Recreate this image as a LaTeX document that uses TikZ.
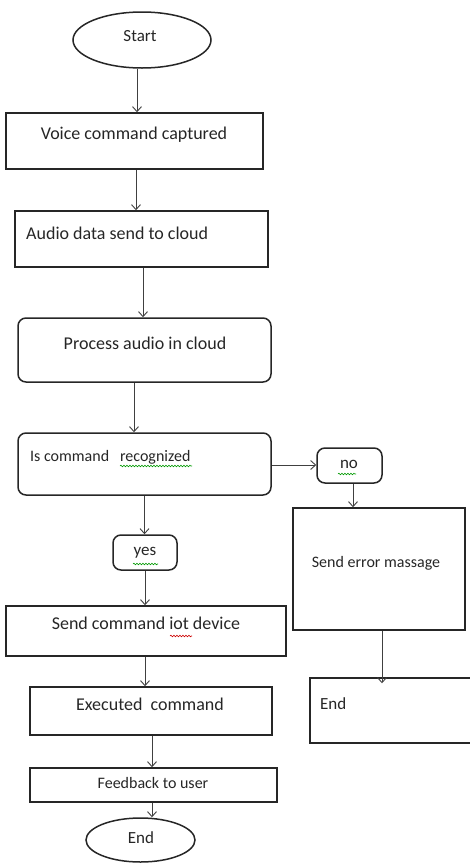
\documentclass[tikz,border=0pt]{standalone}
\usepackage{fontspec}
\setmainfont{Carlito}
\usetikzlibrary{arrows.meta,decorations.pathmorphing,shapes.geometric}
\begin{document}
\begin{tikzpicture}[x=1pt,y=-1pt,
  box/.style={draw=black!85,line width=1.5pt,inner sep=0pt},
  rbox/.style={box,rounded corners=8pt},
  oval/.style={draw=black!85,line width=1.5pt,ellipse,inner sep=0pt},
  txt/.style={inner sep=0pt,text=black!85,font=\fontsize{18}{21}\selectfont},
  stxt/.style={txt,font=\fontsize{16}{19}\selectfont},
  mtxt/.style={txt,font=\fontsize{17}{20}\selectfont},
  flow/.style={draw=black!75,line width=0.9pt,-{Straight Barb[length=5pt,width=9pt]}},
  squig/.style={decorate,decoration={snake,segment length=3pt,amplitude=0.8pt},line width=0.6pt}]
\useasboundingbox (0,0) rectangle (470,863);
% shapes
\node[oval,minimum width=138pt,minimum height=56pt] (start) at (142,40) {};
\node[box,minimum width=257pt,minimum height=56pt] (voice) at (134.5,141) {};
\node[box,minimum width=253pt,minimum height=56pt] (audio) at (141.5,239) {};
\node[rbox,minimum width=253pt,minimum height=64pt] (proc) at (144.5,350) {};
\node[rbox,minimum width=253pt,minimum height=62pt] (isc) at (144.5,464) {};
\node[rbox,minimum width=65pt,minimum height=35pt] (no) at (349.5,465.5) {};
\node[box,minimum width=172pt,minimum height=122pt] (err) at (379,569) {};
\node[box,minimum width=170pt,minimum height=65pt] (end2) at (395,710.5) {};
\node[rbox,minimum width=64pt,minimum height=35pt] (yes) at (145,552.5) {};
\node[box,minimum width=280pt,minimum height=50pt] (send) at (146,631) {};
\node[box,minimum width=242pt,minimum height=48pt] (exec) at (151,711) {};
\node[box,minimum width=247pt,minimum height=34pt] (fb) at (153.5,785) {};
\node[oval,minimum width=109pt,minimum height=44pt] (end1) at (140.5,840) {};
% texts
\node[mtxt] (tstart) at (140,36) {Start};
\node[txt] (tvoice) at (134,135) {Voice command captured};
\node[txt,anchor=west] (taudio) at (26,233) {Audio data send to cloud};
\node[txt] (tproc) at (145,343) {Process audio in cloud};
\node[stxt,anchor=west] (tisc) at (30,457) {Is command \ \ recognized};
\node[mtxt] (tno) at (349,464) {no};
\node[stxt] (terr) at (376,563) {Send error massage};
\node[mtxt,anchor=west] (tend2) at (320,704) {End};
\node[mtxt] (tyes) at (145,553) {yes};
\node[txt] (tsend) at (146,623) {Send command iot device};
\node[txt] (texec) at (150,704) {Executed \ command};
\node[stxt] (tfb) at (153,783) {Feedback to user};
\node[mtxt] (tend1) at (141,838) {End};
% connectors
\draw[flow] (start.south -| 137,0) -- (voice.north -| 137,0);
\draw[flow] ([xshift=1.5pt]voice.south) -- ([xshift=1.5pt]voice.south |- audio.north);
\draw[flow] ([xshift=1.5pt]audio.south) -- ([xshift=1.5pt]audio.south |- proc.north);
\draw[flow] ([xshift=-10.5pt]proc.south) -- ([xshift=-10.5pt]proc.south |- isc.north);
\draw[flow] (isc.south) -- (isc.south |- yes.north);
\draw[flow] ([yshift=-1pt]isc.east) -- ([yshift=-1pt]isc.east -| no.west);
\draw[flow] ([xshift=3.5pt]no.south) -- ([xshift=3.5pt]no.south |- err.north);
\draw[flow] ([xshift=3pt]err.south) -- ([xshift=3pt,yshift=-6pt]err.south |- end2.north);
\draw[flow] (yes.south) -- (yes.south |- send.north);
\draw[flow] ([xshift=-1pt]send.south) -- ([xshift=-1pt]send.south |- exec.north);
\draw[flow] ([xshift=1pt]exec.south) -- ([xshift=1pt]exec.south |- fb.north);
\draw[flow] ([xshift=-1.5pt]fb.south) -- ([xshift=-1.5pt]fb.south |- end1.north);
% spell-check underlines
\draw[squig,green!60!black] (120,466) -- (192,466);
\draw[squig,green!60!black] (338,474) -- (356,474);
\draw[squig,green!60!black] (133,564) -- (158,564);
\draw[squig,red!80!black] (170,636) -- (192,636);
\end{tikzpicture}
\end{document}
